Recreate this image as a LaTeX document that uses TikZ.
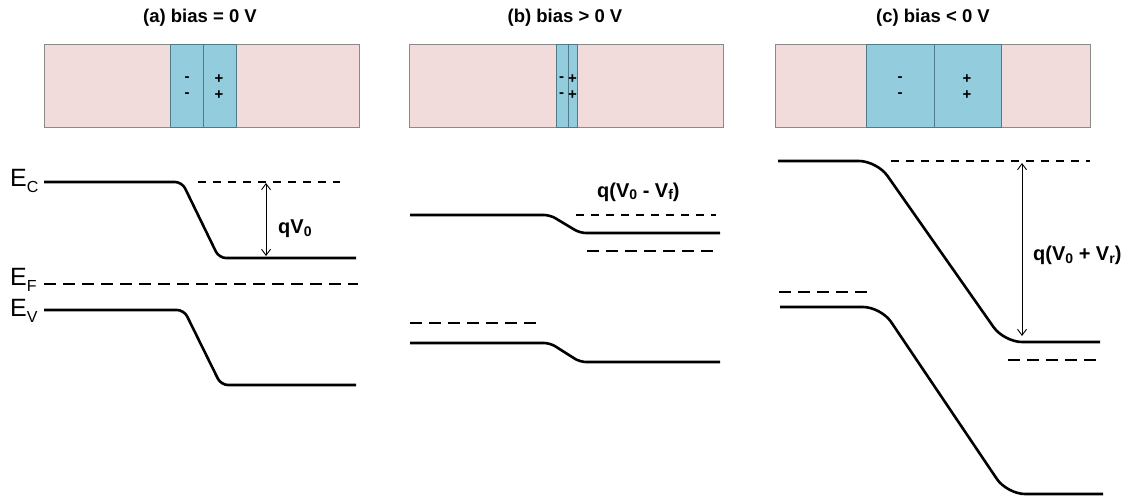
\documentclass[tikz,border=0pt]{standalone}
\usepackage{fontspec}
\setmainfont{Liberation Sans}
\usetikzlibrary{arrows.meta}
\definecolor{ptype}{HTML}{F2DCDB}
\definecolor{depl}{HTML}{93CDDD}
\definecolor{boxedge}{HTML}{8A8A8A}
\definecolor{depledge}{HTML}{4F7A88}
% small helper: lowered subscript with explicit size and drop
\newcommand{\lsub}[3]{\raisebox{-#3}{\fontsize{#2}{#2}\selectfont #1}}
\begin{document}
\begin{tikzpicture}[x=1pt,y=-1pt,
  region/.style={fill=ptype,draw=boxedge,line width=0.9pt},
  deplbox/.style={fill=depl,draw=depledge,line width=0.9pt},
  charge/.style={font=\fontsize{15}{15}\selectfont\bfseries,inner sep=0pt},
  title/.style={font=\fontsize{18.5}{21}\selectfont\bfseries,inner sep=0pt},
  level/.style={font=\fontsize{25}{25}\selectfont,inner sep=0pt,anchor=base west},
  gap/.style={font=\fontsize{20}{22}\selectfont\bfseries,inner sep=0pt,anchor=base west},
  band/.style={line width=2.6pt,line join=round},
  thindash/.style={line width=1.2pt,dash pattern=on 8pt off 7pt},
  thickdash/.style={line width=2.4pt,dash pattern=on 12pt off 7pt},
  span/.style={line width=0.9pt,{Straight Barb[length=6pt,width=9pt]}-{Straight Barb[length=6pt,width=9pt]}}]
\useasboundingbox (0,0) rectangle (1138,497);

% ---------- (a) equilibrium ----------
\node[title] (ta) at (200,18) {(a) bias = 0 V};
\draw[region] (44,44) rectangle (359,127);
\draw[deplbox] (170,44) rectangle (203,127);
\draw[deplbox] (203,44) rectangle (236,127);
\node[charge] (am1) at (187,79) {-};
\node[charge] (am2) at (187,95) {-};
\node[charge] (ap1) at (219,79) {+};
\node[charge] (ap2) at (219,95) {+};

\node[level] (ec) at (10,187) {E\lsub{C}{16pt}{6pt}};
\node[level] (ef) at (10,285) {E\lsub{F}{16pt}{6pt}};
\node[level] (ev) at (10,316) {E\lsub{V}{16pt}{6pt}};

\draw[band,rounded corners=7pt] (44,182) -- (182,182) -- (219,258) -- (356,258);
\draw[band,rounded corners=7pt] (44,310) -- (184,310) -- (221,385) -- (356,385);
\draw[thindash] (198,182) -- (340,182);
\draw[thickdash] (44,284) -- (358,284);
\coordinate (aTop) at (266,183);
\coordinate (aBot) at (266,256);
\draw[span] (aTop) -- (aBot);
\node[gap] (qa) at (278,234) {qV\lsub{0}{14pt}{2pt}};

% ---------- (b) forward bias ----------
\node[title] (tb) at (565,18) {(b) bias > 0 V};
\draw[region] (409,44) rectangle (723,127);
\draw[deplbox] (556,44) rectangle (568,127);
\draw[deplbox] (568,44) rectangle (577,127);
\node[charge] (bm1) at (561.5,79) {-};
\node[charge] (bm2) at (561.5,95) {-};
\node[charge] (bp1) at (572.5,79) {+};
\node[charge] (bp2) at (572.5,95) {+};

\draw[band,rounded corners=6pt] (410,215) -- (550,215) -- (580,233) -- (720,233);
\draw[band,rounded corners=6pt] (410,343) -- (550,343) -- (580,362) -- (720,362);
\draw[thindash] (576,215) -- (716,215);
\draw[thickdash] (587,251) -- (716,251);
\draw[thickdash] (410,323) -- (540,323);
\node[gap] (qb) at (597,198) {q(V\lsub{0}{14pt}{2pt} - V\lsub{f}{14pt}{2pt})};

% ---------- (c) reverse bias ----------
\node[title] (tc) at (933,18) {(c) bias < 0 V};
\draw[region] (775,44) rectangle (1090,127);
\draw[deplbox] (866,44) rectangle (934,127);
\draw[deplbox] (934,44) rectangle (1001,127);
\node[charge] (cm1) at (900,79) {-};
\node[charge] (cm2) at (900,95) {-};
\node[charge] (cp1) at (967,79) {+};
\node[charge] (cp2) at (967,95) {+};

\draw[band,rounded corners=18pt] (778,161) -- (877,161) -- (1004,342) -- (1100,342);
\draw[band,rounded corners=18pt] (780,307) -- (881,307) -- (1007,494) -- (1103,494);
\draw[thindash] (891,161) -- (1090,161);
\draw[thickdash] (779,292) -- (868,292);
\draw[thickdash] (1008,360) -- (1098,360);
\coordinate (cTop) at (1022,163);
\coordinate (cBot) at (1022,336);
\draw[span] (cTop) -- (cBot);
\node[gap] (qc) at (1033,261) {q(V\lsub{0}{14pt}{2pt} + V\lsub{r}{14pt}{2pt})};
\end{tikzpicture}
\end{document}
